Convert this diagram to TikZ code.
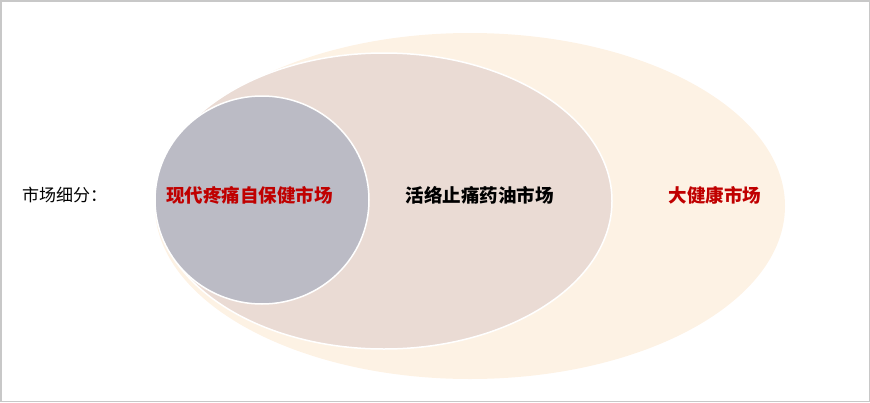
\documentclass[tikz,border=0pt]{standalone}
\usepackage{fontspec}
\newfontfamily\cjk{Noto Sans CJK SC}
\definecolor{outerfill}{RGB}{253,242,228}
\definecolor{midfill}{RGB}{234,219,212}
\definecolor{innerfill}{RGB}{187,187,197}
\definecolor{darkred}{RGB}{192,0,0}
\definecolor{framegray}{RGB}{200,200,200}
\tikzset{
  region/.style={draw=white, line width=1.5pt},
  marketlabel/.style={font=\cjk\bfseries\fontsize{18.5}{20}\selectfont, inner sep=0pt, anchor=center},
  sidelabel/.style={font=\cjk\fontsize{17}{19}\selectfont, inner sep=0pt, anchor=west}
}
\begin{document}
\begin{tikzpicture}[x=1pt,y=-1pt]
\useasboundingbox (0,0) rectangle (870,402);
\draw[framegray, line width=1.5pt] (0.75,0.75) rectangle (869.25,401.25);
\fill[outerfill] (470,206) ellipse [x radius=315, y radius=173];
\filldraw[fill=midfill, region] (384,201) ellipse [x radius=228, y radius=148];
\filldraw[fill=innerfill, region] (262,200) ellipse [x radius=107, y radius=104];
\node[sidelabel] (seg) at (22,195) {市场细分：};
\node[marketlabel, text=darkred] (modern) at (249.5,195) {现代疼痛自保健市场};
\node[marketlabel, text=black] (oil) at (479.5,195) {活络止痛药油市场};
\node[marketlabel, text=darkred] (health) at (715,195) {大健康市场};
\end{tikzpicture}
\end{document}
